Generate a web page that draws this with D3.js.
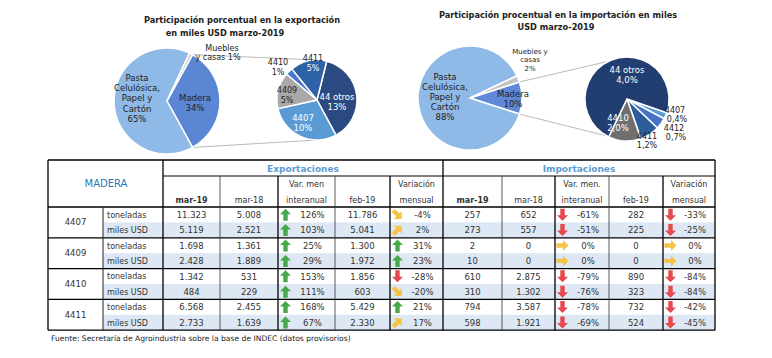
<!DOCTYPE html>
<html><head><meta charset="utf-8">
<script src="https://cdn.jsdelivr.net/npm/d3@7"></script>
<style>body{margin:0;background:#fff}svg{display:block}text{font-family:"DejaVu Sans",sans-serif}</style>
</head><body><svg id="c" width="772" height="358"></svg>
<script>
// ---------------- DATA ----------------
const expMainCats = ["Madera", "Pasta Celulósica, Papel y Cartón", "Muebles y casas"];
const expMainVals = [34, 65, 1];
const expSecCats = ["44 otros", "4407", "4409", "4410", "4411"];
const expSecVals = [13, 10, 5, 1, 5];

const impMainCats = ["Madera", "Pasta Celulósica, Papel y Cartón", "Muebles y casas"];
const impMainVals = [10, 88, 2];
const impSecCats = ["4407", "4412", "4411", "4410", "44 otros"];
const impSecLabels = ["0,4%", "0,7%", "1,2%", "2,0%", "4,0%"];
const impSecVals = [0.4, 0.7, 1.2, 2.0, 11.7]; // slice sizes as drawn in the picture

const codes = ["4407", "4409", "4410", "4411"];
const units = ["toneladas", "miles USD"];
const expMar19 = [11323, 5119, 1698, 2428, 1342, 484, 6568, 2733];
const expMar18 = [5008, 2521, 1361, 1889, 531, 229, 2455, 1639];
const expVarInter = [126, 103, 25, 29, 153, 111, 168, 67];
const expFeb19 = [11786, 5041, 1300, 1972, 1856, 603, 5429, 2330];
const expVarMens = [-4, 2, 31, 23, -28, -20, 21, 17];
const impMar19 = [257, 273, 2, 10, 610, 310, 794, 598];
const impMar18 = [652, 557, 0, 0, 2875, 1302, 3587, 1921];
const impVarInter = [-61, -51, 0, 0, -79, -76, -78, -69];
const impFeb19 = [282, 225, 0, 0, 890, 323, 732, 524];
const impVarMens = [-33, -25, 0, 0, -84, -84, -42, -45];

// ---------------- SETUP ----------------
const svg = d3.select("#c");
svg.append("rect").attr("width", 772).attr("height", 358).attr("fill", "#fff");
const loc = d3.formatLocale({decimal: ",", thousands: ".", grouping: [3], currency: ["$", ""]});
const fInt = loc.format(",d");
const rad = d => d * Math.PI / 180;

function txt(g, x, y, s, o = {}) {
  return g.append("text").attr("x", x).attr("y", y).text(s)
    .attr("text-anchor", o.anchor || "middle")
    .attr("font-size", o.size || 8)
    .attr("font-weight", o.bold ? "bold" : "normal")
    .attr("fill", o.fill || "#222");
}

function pieGroup(cx, cy, r, vals, colors, startDeg) {
  const arcs = d3.pie().sort(null).startAngle(rad(startDeg)).endAngle(rad(startDeg) + 2 * Math.PI)(vals);
  const arc = d3.arc().innerRadius(0).outerRadius(r);
  const g = svg.append("g").attr("transform", `translate(${cx},${cy})`);
  g.selectAll("path").data(arcs).join("path")
    .attr("d", arc).attr("fill", (d, i) => colors[i])
    .attr("stroke", "#fff").attr("stroke-width", 1.5);
  return arcs;
}
const pt = (cx, cy, r, a) => [cx + r * Math.sin(a), cy - r * Math.cos(a)];

function connectors(cx, cy, r, arcM, cx2, cy2, r2) {
  const a = pt(cx, cy, r, arcM.startAngle), b = pt(cx, cy, r, arcM.endAngle);
  svg.append("line").attr("x1", a[0]).attr("y1", a[1]).attr("x2", cx2).attr("y2", cy2 - r2)
    .attr("stroke", "#a6a6a6").attr("stroke-width", 0.8);
  svg.append("line").attr("x1", b[0]).attr("y1", b[1]).attr("x2", cx2).attr("y2", cy2 + r2)
    .attr("stroke", "#a6a6a6").attr("stroke-width", 0.8);
}

// ---------------- EXPORT PIE ----------------
{
  const cx = 167, cy = 101, r = 53, cx2 = 317, cy2 = 100, r2 = 40;
  const madStart = 90 - expMainVals[0] / 100 * 180;
  const tmp = d3.pie().sort(null).startAngle(rad(madStart)).endAngle(rad(madStart) + 2 * Math.PI)(expMainVals);
  connectors(cx, cy, r, tmp[0], cx2, cy2, r2);
  pieGroup(cx, cy, r, expMainVals, ["#5b86d3", "#8fb9e6", "#d0d0d0"], madStart);
  pieGroup(cx2, cy2, r2, expSecVals, ["#2c4a82", "#5b9bd5", "#a9a9a9", "#4a78cc", "#2e62a6"], 14);
  const T = svg.append("g");
  txt(T, 242, 23, "Participación porcentual en la exportación", {bold: true, size: 8.2});
  txt(T, 225, 36, "en miles USD marzo-2019", {bold: true, size: 8.2});
  ["Pasta", "Celulósica,", "Papel y", "Cartón", "65%"].forEach((s, i) => txt(T, 137, 81 + i * 10.2, s, {size: 8.5}));
  txt(T, 195, 101, "Madera", {size: 8.5}); txt(T, 195, 111, "34%", {size: 8.5});
  txt(T, 222, 51, "Muebles", {size: 8}); txt(T, 218, 60, "y casas 1%", {size: 8});
  txt(T, 337, 100, "44 otros", {size: 8.5, fill: "#fff"}); txt(T, 337, 110, "13%", {size: 8.5, fill: "#fff"});
  txt(T, 303, 121, "4407", {size: 8.5, fill: "#fff"}); txt(T, 303, 131, "10%", {size: 8.5, fill: "#fff"});
  txt(T, 287, 93, "4409", {size: 8}); txt(T, 287, 103, "5%", {size: 8});
  txt(T, 278, 65, "4410", {size: 8}); txt(T, 278, 75, "1%", {size: 8});
  txt(T, 313, 61, "4411", {size: 8}); txt(T, 313, 71, "5%", {size: 8, fill: "#fff"});
}

// ---------------- IMPORT PIE ----------------
{
  const cx = 470, cy = 98, r = 52, cx2 = 627, cy2 = 99, r2 = 42;
  const madStart = 90 - impMainVals[0] / 100 * 180;
  const tmp = d3.pie().sort(null).startAngle(rad(madStart)).endAngle(rad(madStart) + 2 * Math.PI)(impMainVals);
  connectors(cx, cy, r, tmp[0], cx2, cy2, r2);
  pieGroup(cx, cy, r, impMainVals, ["#6088d6", "#8fb9e6", "#c4c4c4"], madStart);
  pieGroup(cx2, cy2, r2, impSecVals, ["#5b9bd5", "#4472c4", "#2c5d9a", "#6f6f6f", "#223d70"], 109);
  const T = svg.append("g");
  txt(T, 558, 18, "Participación procentual en la importación en miles", {bold: true, size: 8.2});
  txt(T, 556, 30, "USD marzo-2019", {bold: true, size: 8.2});
  ["Pasta", "Celulósica,", "Papel y", "Cartón", "88%"].forEach((s, i) => txt(T, 445, 80 + i * 10, s, {size: 8.5}));
  txt(T, 513, 97, "Madera", {size: 8.5}); txt(T, 513, 107, "10%", {size: 8.5});
  txt(T, 530, 54, "Muebles y", {size: 7}); txt(T, 530, 62, "casas", {size: 7}); txt(T, 530, 71, "2%", {size: 7});
  txt(T, 627, 73, "44 otros", {size: 8.5, fill: "#fff"}); txt(T, 627, 83, impSecLabels[4], {size: 8.5, fill: "#fff"});
  txt(T, 618, 121, "4410", {size: 8.5, fill: "#fff"}); txt(T, 618, 131, impSecLabels[3], {size: 8.5, fill: "#fff"});
  txt(T, 647, 139, "4411", {size: 8}); txt(T, 647, 148, impSecLabels[2], {size: 8});
  txt(T, 675, 113, "4407", {size: 8}); txt(T, 677, 122, impSecLabels[0], {size: 8});
  txt(T, 674, 131, "4412", {size: 8}); txt(T, 676, 140, impSecLabels[1], {size: 8});
}

// ---------------- TABLE ----------------
const colX = [48, 103, 163, 220, 278, 335, 390, 443, 502, 555, 609, 663, 715];
const yTop = 160, yH1 = 176, yH2 = 207, rowH = 15.4;
const tb = svg.append("g");
const nRows = codes.length * units.length;
const rowY = i => yH2 + i * rowH;

// stripes
d3.range(nRows).filter(i => i % 2 === 1).forEach(i => {
  tb.append("rect").attr("x", colX[1]).attr("y", rowY(i)).attr("width", colX[12] - colX[1]).attr("height", rowH).attr("fill", "#dde8f4");
});

// arrows
const arrowPath = "M0,-6 L5.5,-0.5 L2.2,-0.5 L2.2,6 L-2.2,6 L-2.2,-0.5 L-5.5,-0.5 Z";
function arrow(x, y, v) {
  let rot, col;
  if (v >= 20) { rot = 0; col = "#45a84a"; }
  else if (v > 0) { rot = 45; col = "#f6c443"; }
  else if (v === 0) { rot = 90; col = "#f6c443"; }
  else if (v > -25) { rot = 135; col = "#f6c443"; }
  else { rot = 180; col = "#e5484d"; }
  tb.append("path").attr("d", arrowPath).attr("fill", col)
    .attr("transform", `translate(${x},${y}) rotate(${rot})`);
}

const colsData = [expMar19, expMar18, expVarInter, expFeb19, expVarMens, impMar19, impMar18, impVarInter, impFeb19, impVarMens];
const isVar = [false, false, true, false, true, false, false, true, false, true];
d3.range(nRows).forEach(i => {
  const yc = rowY(i) + rowH / 2;
  txt(tb, colX[1] + 4, yc + 3, units[i % 2], {anchor: "start", size: 8, fill: "#333"});
  colsData.forEach((arr, k) => {
    const l = colX[k + 2], rr = colX[k + 3];
    if (isVar[k]) {
      arrow(l + 7.5, yc, arr[i]);
      txt(tb, l + 12 + (rr - l - 12) / 2, yc + 3.2, arr[i] + "%", {size: 8.5, fill: "#333"});
    } else {
      txt(tb, (l + rr) / 2, yc + 3.2, fInt(arr[i]), {size: 8.5, fill: "#333"});
    }
  });
});
codes.forEach((c, g) => txt(tb, (colX[0] + colX[1]) / 2, rowY(2 * g) + rowH + 3, c, {size: 8.5, fill: "#333"}));

// headers
txt(tb, 106, 187, "MADERA", {size: 10, fill: "#2e75b6"});
txt(tb, (colX[2] + colX[7]) / 2, 172, "Exportaciones", {size: 9, bold: true, fill: "#5b9bd5"});
txt(tb, (colX[7] + colX[12]) / 2, 172, "Importaciones", {size: 9, bold: true, fill: "#5b9bd5"});
const hdr = [["mar-19"], ["mar-18"], ["Var. men", "interanual"], ["feb-19"], ["Variación", "mensual"],
             ["mar-19"], ["mar-18"], ["Var. men.", "interanual"], ["feb-19"], ["Variación", "mensual"]];
hdr.forEach((h, k) => {
  const cxm = (colX[k + 2] + colX[k + 3]) / 2;
  if (h.length === 1) txt(tb, cxm, 203, h[0], {size: 8, bold: k === 0 || k === 5, fill: "#333"});
  else { txt(tb, cxm, 187, h[0], {size: 8, fill: "#333"}); txt(tb, cxm, 203, h[1], {size: 8, fill: "#333"}); }
});

// grid lines
const yBot = rowY(nRows);
function ln(x1, y1, x2, y2, w, c) { tb.append("line").attr("x1", x1).attr("y1", y1).attr("x2", x2).attr("y2", y2).attr("stroke", c || "#000").attr("stroke-width", w); }
ln(colX[0], yTop, colX[12], yTop, 1.3);
ln(colX[2], yH1, colX[12], yH1, 1);
ln(colX[0], yH2, colX[12], yH2, 1.3);
codes.forEach((c, g) => { if (g > 0) ln(colX[0], rowY(2 * g), colX[12], rowY(2 * g), 1.3); });
ln(colX[0], yBot, colX[12], yBot, 1.3);
[0, 2, 7, 12].forEach(k => ln(colX[k], yTop, colX[k], yBot, 1.3));
ln(colX[1], yH2, colX[1], yBot, 1, "#222");
[4, 6, 9, 11].forEach(k => ln(colX[k], yH1, colX[k], yBot, 1.3));
[3, 5, 8, 10].forEach(k => ln(colX[k], yH1, colX[k], yBot, 0.8, "#333"));

// footer
txt(svg, 51, 341, "Fuente: Secretaría de Agroindustria sobre la base de INDEC (datos provisorios)", {anchor: "start", size: 7.6, fill: "#222"});
</script></body></html>
